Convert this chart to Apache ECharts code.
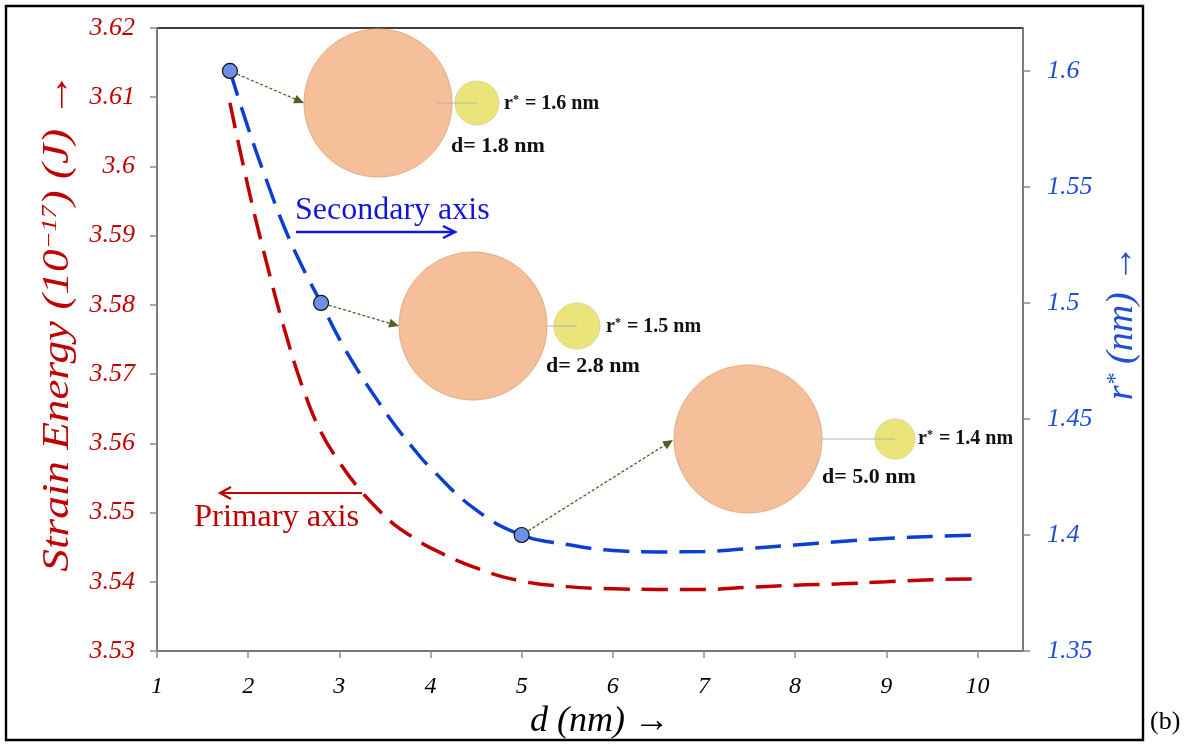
<!DOCTYPE html>
<html>
<head>
<meta charset="utf-8">
<script src="https://cdn.jsdelivr.net/npm/echarts@6/dist/echarts.min.js"></script>
<style>
  html, body { margin: 0; padding: 0; background: #ffffff; }
  #chart { width: 1192px; height: 747px; }
</style>
</head>
<body>
<div id="chart"></div>
<script>
// Separation d (nm) between precipitates
const dValues = [1.8, 2.0, 2.2, 2.4, 2.6, 2.8, 3.0, 3.2, 3.4, 3.6, 3.8, 4.0, 4.5, 5.0, 5.5, 6.0, 6.5, 7.0, 7.5, 8.0, 8.5, 9.0, 9.5, 10];
// Strain energy (10^-17 J), primary axis
const strainEnergy = [3.6092, 3.5970, 3.5862, 3.5764, 3.5680, 3.5616, 3.5573, 3.5537, 3.5508, 3.5483, 3.5465, 3.5449, 3.5420, 3.5401, 3.5393, 3.5390, 3.5389, 3.5389, 3.5392, 3.5395, 3.5397, 3.5400, 3.5403, 3.5404];
// Critical radius r* (nm), secondary axis
const criticalRadius = [1.6, 1.5754, 1.5530, 1.5323, 1.5151, 1.5, 1.4845, 1.4711, 1.4591, 1.4478, 1.4379, 1.4289, 1.4108, 1.4, 1.3959, 1.3933, 1.3927, 1.3929, 1.3942, 1.3957, 1.3972, 1.3985, 1.3994, 1.4];
// Separations that get a sketch of the precipitate pair
const highlightD = [1.8, 2.8, 5.0];

// Tick values
const xTicks = [1, 2, 3, 4, 5, 6, 7, 8, 9, 10];
const energyTicks = [3.53, 3.54, 3.55, 3.56, 3.57, 3.58, 3.59, 3.6, 3.61, 3.62];
const radiusTicks = [1.35, 1.4, 1.45, 1.5, 1.55, 1.6];

const SERIF = "'Liberation Serif', 'DejaVu Serif', serif";
const RED = '#c00000';
const BLUE_LINE = '#0b3fd1';
const BLUE_TEXT = '#1f4ed8';
const GREEN = '#4f6228';

const energyPairs = dValues.map((d, i) => [d, strainEnergy[i]]);
const radiusPairs = dValues.map((d, i) => [d, criticalRadius[i]]);
const highlightPairs = highlightD.map(d => [d, criticalRadius[dValues.indexOf(d)]]);

const chart = echarts.init(document.getElementById('chart'), null, { renderer: 'canvas' });

const axisLineStyle = { color: '#8c8c8c', width: 1.5 };

chart.setOption({
  animation: false,
  backgroundColor: '#ffffff',
  grid: {
    left: 157, top: 28, right: 169, bottom: 96,
    show: true, borderColor: '#000000', borderWidth: 1.4, backgroundColor: 'transparent'
  },
  xAxis: {
    type: 'value', min: 1, max: 10.5,
    name: 'd (nm) →', nameLocation: 'middle', nameGap: 38,
    nameTextStyle: { fontFamily: SERIF, fontStyle: 'italic', fontSize: 36, color: '#000', padding: [0, 0, 0, 20] },
    axisLine: { lineStyle: axisLineStyle },
    axisTick: { show: true, length: 7, lineStyle: axisLineStyle, customValues: xTicks },
    axisLabel: { customValues: xTicks, margin: 24, fontFamily: SERIF, fontStyle: 'italic', fontSize: 24, color: '#000', formatter: v => String(v) },
    splitLine: { show: false }
  },
  yAxis: [
    {
      type: 'value', min: 3.53, max: 3.62, position: 'left',
      axisLine: { show: true, lineStyle: axisLineStyle },
      axisTick: { show: true, length: 7, lineStyle: axisLineStyle, customValues: energyTicks },
      axisLabel: { customValues: energyTicks, margin: 22, fontFamily: SERIF, fontStyle: 'italic', fontSize: 26, color: RED, formatter: v => String(v) },
      splitLine: { show: false }
    },
    {
      type: 'value', min: 1.35, max: 1.6185, position: 'right',
      name: '{t|r}{s|*}{t| (nm) →}', nameLocation: 'middle', nameRotate: 90, nameGap: 78,
      nameTextStyle: {
        padding: [0, 0, 0, 34],
        rich: {
          t: { fontFamily: SERIF, fontStyle: 'italic', fontSize: 38, color: BLUE_TEXT },
          s: { fontFamily: SERIF, fontStyle: 'italic', fontSize: 24, color: BLUE_TEXT, verticalAlign: 'top', padding: [0, 0, 12, 0] }
        }
      },
      axisLine: { show: true, lineStyle: axisLineStyle },
      axisTick: { show: true, length: 7, lineStyle: axisLineStyle, customValues: radiusTicks },
      axisLabel: { customValues: radiusTicks, margin: 24, fontFamily: SERIF, fontStyle: 'italic', fontSize: 26, color: BLUE_TEXT, formatter: v => String(v) },
      splitLine: { show: false }
    }
  ],
  series: [
    {
      name: 'Strain energy', type: 'line', yAxisIndex: 0, data: energyPairs,
      smooth: 0.45, showSymbol: false, symbol: 'none',
      lineStyle: { color: RED, width: 3.5, type: [26, 12] }, z: 3
    },
    {
      name: 'r*', type: 'line', yAxisIndex: 1, data: radiusPairs,
      smooth: 0.45, showSymbol: false, symbol: 'none',
      lineStyle: { color: BLUE_LINE, width: 3.5, type: [26, 12] }, z: 4
    },
    {
      name: 'Highlighted', type: 'scatter', yAxisIndex: 1, data: highlightPairs,
      symbol: 'circle', symbolSize: 15,
      itemStyle: { color: '#6f8fe6', borderColor: '#111', borderWidth: 1.2, opacity: 1 }, z: 6
    }
  ]
});

// Sketches of the precipitate pair at each highlighted separation (pixel layout)
const sketches = [
  { cx: 378, cy: 103, R: 74, sx: 477, sr: 22, lineFrom: 437, rx: 504, ry: 104, dx: 451, dy: 146, tip: [304, 103] },
  { cx: 473, cy: 326, R: 74, sx: 577, sr: 23, lineFrom: 548, rx: 606, ry: 327, dx: 546, dy: 366, tip: [399, 326] },
  { cx: 748, cy: 439, R: 74, sx: 895, sr: 20, lineFrom: 822, rx: 918, ry: 439, dx: 822, dy: 477, tip: [673, 440] }
];

function arrowHead(tip, from, len, halfW, color) {
  const ang = Math.atan2(tip[1] - from[1], tip[0] - from[0]);
  const ux = Math.cos(ang), uy = Math.sin(ang);
  const bx = tip[0] - ux * len, by = tip[1] - uy * len;
  return {
    type: 'polygon', silent: true, z: 20,
    shape: { points: [tip, [bx - uy * halfW, by + ux * halfW], [bx + uy * halfW, by - ux * halfW]] },
    style: { fill: color }
  };
}

const graphics = [];

// outer frame
graphics.push({
  type: 'rect', silent: true, z: 30,
  shape: { x: 6, y: 6, width: 1137, height: 734 },
  style: { fill: 'none', stroke: '#000', lineWidth: 2.4 }
});
graphics.push({
  type: 'text', silent: true, z: 30, x: 1150, y: 722,
  style: { text: '(b)', font: '26px ' + SERIF, fill: '#000', textVerticalAlign: 'middle' }
});

// primary axis title, set in tall lettering
graphics.push({
  type: 'text', silent: true, z: 30, x: 58, y: 322, rotation: Math.PI / 2, scaleX: 1.19, scaleY: 1,
  style: {
    text: '{t|Strain Energy (10}{s|−17}{t|) (J) →}',
    align: 'center', verticalAlign: 'middle',
    rich: {
      t: { fontFamily: SERIF, fontStyle: 'italic', fontSize: 38, fill: RED },
      s: { fontFamily: SERIF, fontStyle: 'italic', fontSize: 22, fill: RED, verticalAlign: 'top', padding: [0, 0, 14, 0] }
    }
  }
});

sketches.forEach((s, i) => {
  const p = chart.convertToPixel({ xAxisIndex: 0, yAxisIndex: 1 }, highlightPairs[i]);
  // dotted leader from the marker to the sketch
  const ang = Math.atan2(s.tip[1] - p[1], s.tip[0] - p[0]);
  const start = [p[0] + Math.cos(ang) * 8, p[1] + Math.sin(ang) * 8];
  const lineEnd = [s.tip[0] - Math.cos(ang) * 8, s.tip[1] - Math.sin(ang) * 8];
  graphics.push({
    type: 'line', silent: true, z: 19,
    shape: { x1: start[0], y1: start[1], x2: lineEnd[0], y2: lineEnd[1] },
    style: { stroke: GREEN, lineWidth: 1.3, lineDash: [3, 2] }
  });
  graphics.push(arrowHead(s.tip, start, 10, 4.5, GREEN));

  graphics.push({
    type: 'circle', silent: true, z: 10,
    shape: { cx: s.cx, cy: s.cy, r: s.R },
    style: { fill: '#f5bf99', stroke: '#e3aa84', lineWidth: 1 }
  });
  graphics.push({
    type: 'circle', silent: true, z: 10,
    shape: { cx: s.sx, cy: s.cy, r: s.sr },
    style: { fill: '#ebe47a', stroke: '#dcd68a', lineWidth: 1 }
  });
  graphics.push({
    type: 'line', silent: true, z: 11,
    shape: { x1: s.lineFrom, y1: s.cy, x2: s.sx, y2: s.cy },
    style: { stroke: '#b5b5a8', lineWidth: 1 }
  });
  const rVal = highlightPairs[i][1].toFixed(1);
  const dVal = highlightPairs[i][0].toFixed(1);
  graphics.push({
    type: 'text', silent: true, z: 12, x: s.rx, y: s.ry,
    style: {
      text: '{a|r}{s|*}{a| = ' + rVal + ' nm}',
      verticalAlign: 'middle',
      rich: {
        a: { fontFamily: SERIF, fontWeight: 'bold', fontSize: 20, fill: '#111' },
        s: { fontFamily: SERIF, fontWeight: 'bold', fontSize: 12, fill: '#111', verticalAlign: 'top', padding: [0, 1, 8, 0] }
      }
    }
  });
  graphics.push({
    type: 'text', silent: true, z: 12, x: s.dx, y: s.dy,
    style: { text: 'd= ' + dVal + ' nm', font: 'bold 22px ' + SERIF, fill: '#111', verticalAlign: 'middle' }
  });
});

// axis hints
graphics.push({
  type: 'text', silent: true, z: 12, x: 295, y: 211,
  style: { text: 'Secondary axis', font: '32px ' + SERIF, fill: '#1414e0', verticalAlign: 'middle' }
});
graphics.push({
  type: 'line', silent: true, z: 12,
  shape: { x1: 296, y1: 232, x2: 454, y2: 232 },
  style: { stroke: '#1414e0', lineWidth: 2.5 }
});
graphics.push({
  type: 'polyline', silent: true, z: 12,
  shape: { points: [[443, 226], [455, 232], [443, 238]] },
  style: { stroke: '#1414e0', lineWidth: 2.5, fill: 'none' }
});
graphics.push({
  type: 'text', silent: true, z: 12, x: 194, y: 517,
  style: { text: 'Primary axis', font: '32.5px ' + SERIF, fill: RED, verticalAlign: 'middle' }
});
graphics.push({
  type: 'line', silent: true, z: 12,
  shape: { x1: 220, y1: 493, x2: 362, y2: 493 },
  style: { stroke: RED, lineWidth: 2.2 }
});
graphics.push({
  type: 'polyline', silent: true, z: 12,
  shape: { points: [[231, 487], [220, 493], [231, 499]] },
  style: { stroke: RED, lineWidth: 2.2, fill: 'none' }
});

chart.setOption({ graphic: graphics });
</script>
</body>
</html>
